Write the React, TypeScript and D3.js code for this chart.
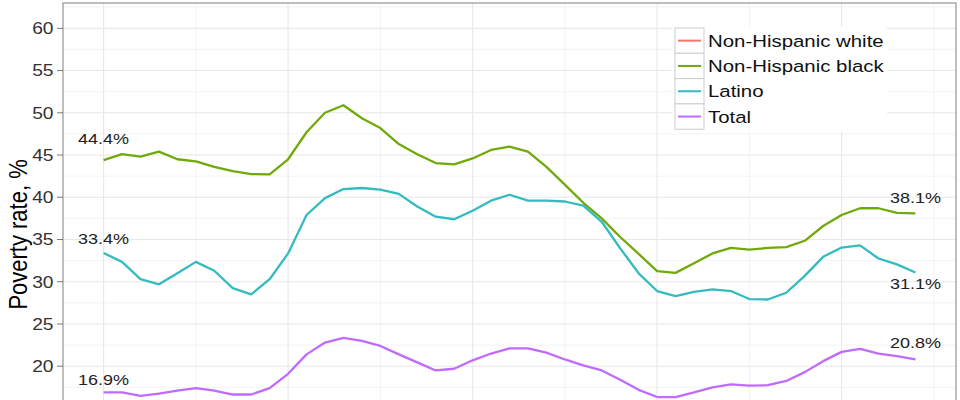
import React from 'react';
import * as d3 from 'd3';

const years = [
  1970, 1971, 1972, 1973, 1974, 1975, 1976, 1977, 1978, 1979,
  1980, 1981, 1982, 1983, 1984, 1985, 1986, 1987, 1988, 1989,
  1990, 1991, 1992, 1993, 1994, 1995, 1996, 1997, 1998, 1999,
  2000, 2001, 2002, 2003, 2004, 2005, 2006, 2007, 2008, 2009,
  2010, 2011, 2012, 2013, 2014,
];

const black = [
  44.4, 45.1, 44.8, 45.4, 44.5, 44.25, 43.6, 43.1, 42.75, 42.7,
  44.5, 47.7, 50.0, 50.9, 49.35, 48.2, 46.3, 45.1, 44.05, 43.9,
  44.6, 45.6, 46.0, 45.4, 43.6, 41.5, 39.35, 37.5, 35.3, 33.3,
  31.25, 31.05, 32.2, 33.35, 34.0, 33.8, 34.0, 34.1, 34.85, 36.6,
  37.9, 38.7, 38.7, 38.15, 38.1,
];

const latino = [
  33.4, 32.35, 30.3, 29.7, 31.0, 32.35, 31.3, 29.25, 28.5, 30.3,
  33.35, 37.9, 39.9, 40.97, 41.1, 40.9, 40.4, 38.9, 37.7, 37.4,
  38.4, 39.6, 40.3, 39.6, 39.6, 39.5, 39.0, 37.1, 33.95, 31.0,
  28.9, 28.3, 28.8, 29.1, 28.9, 27.95, 27.9, 28.7, 30.7, 32.95,
  34.05, 34.3, 32.75, 32.05, 31.1,
];

const total = [
  16.9, 16.9, 16.5, 16.75, 17.1, 17.4, 17.1, 16.65, 16.65, 17.4,
  19.1, 21.4, 22.8, 23.35, 23.0, 22.4, 21.4, 20.45, 19.5, 19.7,
  20.7, 21.5, 22.1, 22.1, 21.6, 20.8, 20.1, 19.5, 18.4, 17.2,
  16.35, 16.35, 16.9, 17.5, 17.85, 17.7, 17.75, 18.25, 19.3, 20.6,
  21.7, 22.05, 21.5, 21.2, 20.8,
];

const legendNames = ['Non-Hispanic white', 'Non-Hispanic black', 'Latino', 'Total'];
const legendColors = ['#F8766D', '#6FAA0A', '#33BBC0', '#C06BFF'];

const yTicks = [20, 25, 30, 35, 40, 45, 50, 55, 60];
const yMinor = [17.5, 22.5, 27.5, 32.5, 37.5, 42.5, 47.5, 52.5, 57.5, 62.5];
const xMajor = [1970, 1980, 1990, 2000, 2010];
const xMinor = [1975, 1985, 1995, 2005, 2015];

// end labels: text, and where the label sits (in data units)
const startLabels = ['44.4%', '33.4%', '16.9%'];
const startLabelY = [46.98, 35.05, 18.46];
const endLabels = ['38.1%', '31.1%', '20.8%'];
const endLabelY = [39.96, 29.74, 22.84];

const W = 960;
const H = 400;
const SX = 1.2; // the picture is stretched a bit sideways
const FONT = '"Liberation Sans", Arial, sans-serif';

export default function App() {
  const panel = { left: 63, right: 956, top: 3 };
  const x = d3.scaleLinear().domain([1967.8, 2016.2]).range([panel.left, panel.right]);
  const y = d3.scaleLinear().domain([16, 63]).range([400, 3]);

  const series = [black, latino, total];
  const colors = [legendColors[1], legendColors[2], legendColors[3]];

  const line = d3
    .line<number>()
    .x((_, i) => x(years[i]))
    .y((d) => y(d));

  const first = years[0];
  const last = years[years.length - 1];

  const legendX = 672;
  const legendTop = 28;
  const rowH = 25.3;

  const hText = (
    key: string,
    tx: number,
    ty: number,
    text: string,
    size: number,
    anchor: 'start' | 'middle' | 'end',
    fill: string
  ) => (
    <text
      key={key}
      transform={`translate(${tx},${ty}) scale(${SX},1)`}
      textAnchor={anchor}
      dy="0.36em"
      fontSize={size}
      fontFamily={FONT}
      fill={fill}
    >
      {text}
    </text>
  );

  return (
    <svg
      width={W}
      height={H}
      style={{ position: 'absolute', left: 0, top: 0, background: '#fff' }}
    >
      <rect x={0} y={0} width={W} height={H} fill="#fff" />
      <defs>
        <clipPath id="panel-clip">
          <rect x={panel.left} y={panel.top} width={panel.right - panel.left} height={H} />
        </clipPath>
      </defs>

      {/* grid */}
      <g clipPath="url(#panel-clip)">
        {yMinor.map((v) => (
          <line key={'ym' + v} x1={panel.left} x2={panel.right} y1={y(v)} y2={y(v)} stroke="#f0f0f0" strokeWidth={0.8} />
        ))}
        {xMinor.map((v) => (
          <line key={'xm' + v} x1={x(v)} x2={x(v)} y1={panel.top} y2={H} stroke="#f0f0f0" strokeWidth={0.8} />
        ))}
        {yTicks.map((v) => (
          <line key={'yM' + v} x1={panel.left} x2={panel.right} y1={y(v)} y2={y(v)} stroke="#e8e8e8" strokeWidth={1.1} />
        ))}
        {xMajor.map((v) => (
          <line key={'xM' + v} x1={x(v)} x2={x(v)} y1={panel.top} y2={H} stroke="#e8e8e8" strokeWidth={1.1} />
        ))}
      </g>

      {/* legend background */}
      <rect x={legendX} y={legendTop - 1} width={215} height={rowH * 4 + 3} fill="#fff" />
      {legendNames.map((name, i) => {
        const cy = legendTop + rowH * i + rowH / 2;
        return (
          <g key={name}>
            <rect x={legendX + 3} y={legendTop + rowH * i} width={29} height={rowH} fill="#fff" stroke="#cccccc" strokeWidth={1} />
            <line x1={legendX + 6} x2={legendX + 29} y1={cy} y2={cy} stroke={legendColors[i]} strokeWidth={2} />
            {hText('lg' + i, legendX + 36, cy, name, 17, 'start', '#111')}
          </g>
        );
      })}

      {/* series */}
      <g clipPath="url(#panel-clip)">
        {series.map((s, i) => (
          <path key={i} d={line(s) || ''} fill="none" stroke={colors[i]} strokeWidth={2.3} strokeLinejoin="round" />
        ))}
      </g>

      {/* labels */}
      {startLabels.map((t, i) => hText('sl' + i, x(first), y(startLabelY[i]), t, 15, 'middle', '#222'))}
      {endLabels.map((t, i) => hText('el' + i, x(last), y(endLabelY[i]), t, 15, 'middle', '#222'))}

      {/* panel border */}
      <rect
        x={panel.left}
        y={panel.top}
        width={panel.right - panel.left}
        height={H}
        fill="none"
        stroke="#8a8a8a"
        strokeWidth={1.1}
      />

      {/* y axis */}
      {yTicks.map((v) => (
        <g key={'yt' + v}>
          <line x1={panel.left - 6} x2={panel.left} y1={y(v)} y2={y(v)} stroke="#7a7a7a" strokeWidth={1} />
          {hText('ytl' + v, panel.left - 9.5, y(v), String(v), 16, 'end', '#333')}
        </g>
      ))}
      <text
        transform={`translate(27,${y(35.6)}) scale(${SX},1) rotate(-90)`}
        textAnchor="middle"
        fontSize={22}
        fontFamily={FONT}
        fill="#000"
      >
        Poverty rate, %
      </text>
    </svg>
  );
}
